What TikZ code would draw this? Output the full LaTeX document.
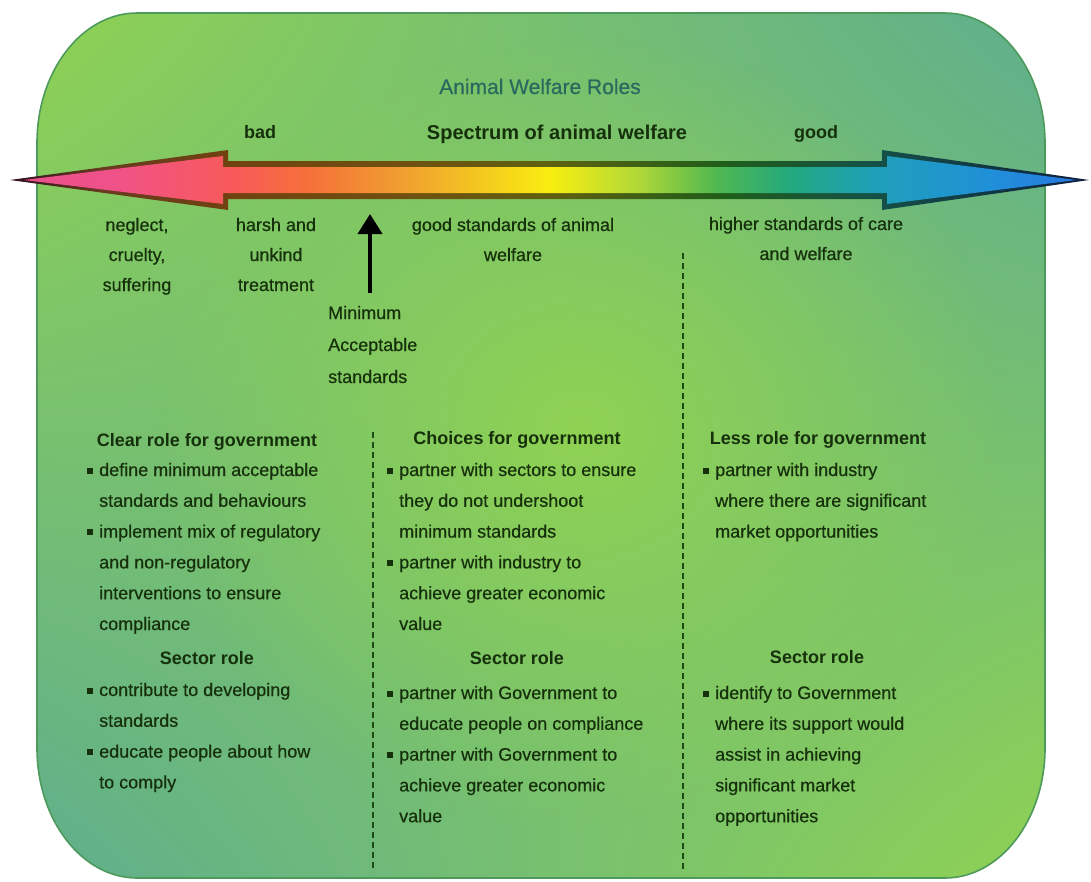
\documentclass[tikz,border=0pt]{standalone}
\usepackage{fontspec}
\setmainfont{Liberation Sans}[UprightFeatures={FakeBold=0.5}]
\usetikzlibrary{arrows.meta,fadings,shadings}

\definecolor{bgA}{HTML}{8FD253}
\definecolor{bgB}{HTML}{5FAE8D}
\definecolor{rim}{HTML}{4E9A5C}
\definecolor{txtc}{HTML}{16300C}
\definecolor{ttl}{HTML}{2A6A5E}
\definecolor{dashc}{HTML}{1E4A14}

% bright spectrum
\definecolor{s0}{HTML}{E8508A}
\definecolor{s1}{HTML}{F0528A}
\definecolor{s2}{HTML}{F85A58}
\definecolor{s3}{HTML}{F5703A}
\definecolor{s4}{HTML}{F0A030}
\definecolor{s5}{HTML}{F8EE10}
\definecolor{s6}{HTML}{B0D838}
\definecolor{s7}{HTML}{50B850}
\definecolor{s8}{HTML}{20A880}
\definecolor{s9}{HTML}{20A0B8}
\definecolor{s10}{HTML}{2090D8}
\definecolor{s11}{HTML}{2878E0}
% dark outline spectrum
\definecolor{d0}{HTML}{301020}
\definecolor{d1}{HTML}{6A3A20}
\definecolor{d2}{HTML}{704210}
\definecolor{d4}{HTML}{705010}
\definecolor{d5}{HTML}{606010}
\definecolor{d7}{HTML}{205E1A}
\definecolor{d9}{HTML}{145048}
\definecolor{d11}{HTML}{102040}

\pgfdeclarehorizontalshading{spec}{100bp}{color(0bp)=(s0); color(25bp)=(s0); color(29.2bp)=(s1); color(35.1bp)=(s2); color(38.4bp)=(s3); color(43.1bp)=(s4); color(50bp)=(s5); color(54.2bp)=(s6); color(57.9bp)=(s7); color(61.6bp)=(s8); color(65.3bp)=(s9); color(70.9bp)=(s10); color(75bp)=(s11); color(100bp)=(s11)}
\pgfdeclarehorizontalshading{specdark}{100bp}{color(0bp)=(d0); color(25bp)=(d0); color(29.2bp)=(d1); color(35.1bp)=(d2); color(43.1bp)=(d4); color(50bp)=(d5); color(57.9bp)=(d7); color(65.3bp)=(d9); color(75bp)=(d11); color(100bp)=(d11)}

\tikzfading[name=glow, inner color=transparent!0, outer color=transparent!100]

\newcommand\bl{\makebox[12pt][l]{\rule[2.5pt]{6pt}{6pt}}}
\newcommand\ind{\hspace*{12pt}}
\newcommand\lst[2]{\parbox[t]{#1}{\raggedright\fontsize{18}{30.8}\selectfont #2}}
\newcommand\cbox[2]{\parbox[t]{#1}{\centering\fontsize{18}{30}\selectfont #2}}

\tikzset{
  lbl/.style={inner sep=0, text=txtc, font=\fontsize{18}{30}\selectfont},
  hd/.style={inner sep=0, text=txtc, font=\fontsize{18}{22}\selectfont\bfseries, anchor=base},
}

\begin{document}
\begin{tikzpicture}[x=1pt,y=-1pt]
\useasboundingbox (0,0) rectangle (1091,881);

% background panel
\def\panel{(137,13) -- (945,13) .. controls (1000,13) and (1045,71) .. (1045,143) -- (1045,748) .. controls (1045,820) and (1000,878) .. (945,878) -- (137,878) .. controls (82,878) and (37,820) .. (37,748) -- (37,143) .. controls (37,71) and (82,13) .. (137,13) -- cycle}
\shade[upper left=bgA, upper right=bgB, lower left=bgB, lower right=bgA] \panel;
\begin{scope}
  \clip \panel;
  \fill[bgA, path fading=glow] (580,430) ellipse [x radius=430, y radius=400];
\end{scope}
\draw[rim, line width=1.6pt] \panel;

% spectrum arrow
\shade[shading=specdark] (10,180) -- (228,150) -- (228,161) -- (882,161) -- (882,150) -- (1089,180) -- (882,210) -- (882,199) -- (228,199) -- (228,210) -- cycle;
\shade[shading=spec] (24,180) -- (223,156) -- (223,167) -- (887,167) -- (887,156) -- (1076,180) -- (887,204) -- (887,193) -- (223,193) -- (223,204) -- cycle;

% headings
\node[anchor=base, inner sep=0, text=ttl, font=\fontsize{21}{24}\selectfont] (title) at (540,94) {Animal Welfare Roles};
\node[hd, font=\fontsize{20}{24}\selectfont\bfseries] (spec) at (557,139) {Spectrum of animal welfare};
\node[hd] (bad) at (260,138) {bad};
\node[hd] (good) at (816,138) {good};

% spectrum labels
\node[lbl, anchor=base] (neglect) at (137,231) {\cbox{120pt}{neglect,\\ cruelty,\\ suffering}};
\node[lbl, anchor=base] (harsh) at (276,231) {\cbox{120pt}{harsh and\\ unkind\\ treatment}};
\node[lbl, anchor=base] (goodstd) at (513,231) {\cbox{240pt}{good standards of animal\\ welfare}};
\node[lbl, anchor=base] (higher) at (806,230) {\cbox{240pt}{higher standards of care\\ and welfare}};
\node[lbl, anchor=base west] (minacc) at (328,319) {\parbox[t]{110pt}{\raggedright\fontsize{18}{32}\selectfont Minimum\\ Acceptable\\ standards}};

% minimum acceptable arrow
\coordinate (mabot) at (370,293);
\coordinate (matip) at (370,214);
\draw[line width=4pt, -{Triangle[width=24pt,length=20pt]}] (mabot) -- (matip);

% dashed dividers
\coordinate (d1top) at (373,432);
\coordinate (d1bot) at (373,872);
\coordinate (d2top) at (683,253);
\coordinate (d2bot) at (683,872);
\draw[dashc, line width=2.4pt, dash pattern=on 6pt off 4pt] (d1top) -- (d1bot);
\draw[dashc, line width=2.4pt, dash pattern=on 6pt off 4pt] (d2top) -- (d2bot);

% column 1
\node[hd] (c1t) at (207,446) {Clear role for government};
\node[lbl, anchor=base west] (c1g) at (87,476) {\lst{260pt}{\bl define minimum acceptable\\ \ind standards and behaviours\\ \bl implement mix of regulatory\\ \ind and non-regulatory\\ \ind interventions to ensure\\ \ind compliance}};
\node[hd] (c1s) at (207,664) {Sector role};
\node[lbl, anchor=base west] (c1l) at (87,696) {\lst{260pt}{\bl contribute to developing\\ \ind standards\\ \bl educate people about how\\ \ind to comply}};

% column 2
\node[hd] (c2t) at (517,444) {Choices for government};
\node[lbl, anchor=base west] (c2g) at (387,476) {\lst{280pt}{\bl partner with sectors to ensure\\ \ind they do not undershoot\\ \ind minimum standards\\ \bl partner with industry to\\ \ind achieve greater economic\\ \ind value}};
\node[hd] (c2s) at (517,664) {Sector role};
\node[lbl, anchor=base west] (c2l) at (387,699) {\lst{280pt}{\bl partner with Government to\\ \ind educate people on compliance\\ \bl partner with Government to\\ \ind achieve greater economic\\ \ind value}};

% column 3
\node[hd] (c3t) at (818,444) {Less role for government};
\node[lbl, anchor=base west] (c3g) at (703,476) {\lst{260pt}{\bl partner with industry\\ \ind where there are significant\\ \ind market opportunities}};
\node[hd] (c3s) at (817,663) {Sector role};
\node[lbl, anchor=base west] (c3l) at (703,699) {\lst{260pt}{\bl identify to Government\\ \ind where its support would\\ \ind assist in achieving\\ \ind significant market\\ \ind opportunities}};

\end{tikzpicture}
\end{document}
